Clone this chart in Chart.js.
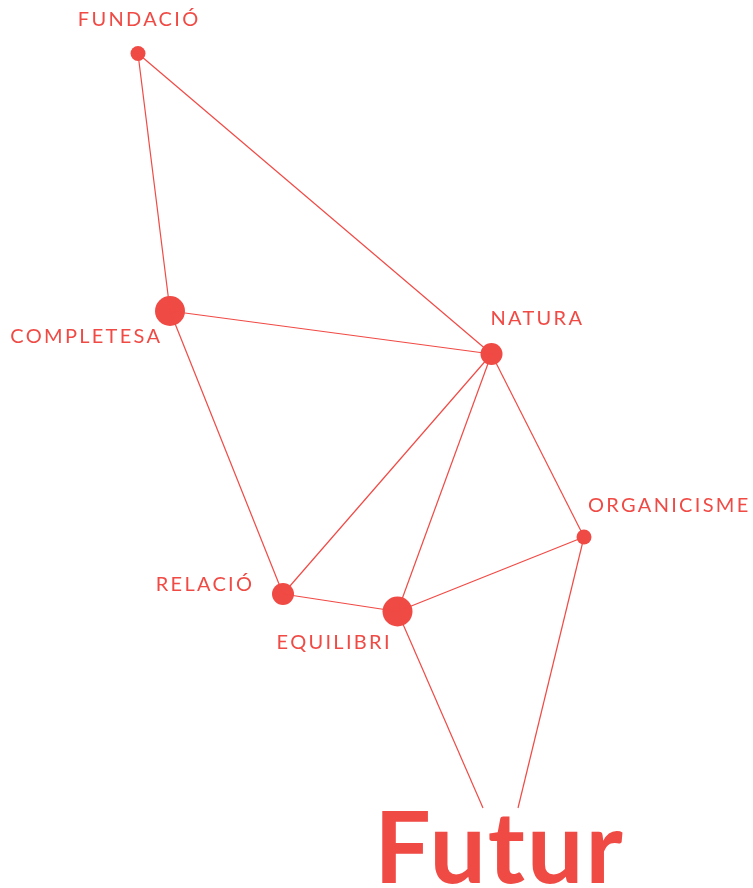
<!DOCTYPE html>
<html><head><meta charset="utf-8">
<script src="https://cdn.jsdelivr.net/npm/chart.js@4/dist/chart.umd.min.js"></script>
<style>html,body{margin:0;padding:0;background:#fff;}#c{display:block;}</style>
</head><body>
<canvas id="c" width="753" height="888"></canvas>
<script>
// ---- data ----
const nodeNames = ['FUNDACIÓ','COMPLETESA','NATURA','ORGANICISME','RELACIÓ','EQUILIBRI'];
const nodeX = [138, 170, 491.5, 584, 283, 397.5];
const nodeY = [53.5, 311, 354, 537, 594, 611.5];
const nodeWeight = [1, 3, 2, 1, 2, 3];
const futurLabel = 'Futur';
const futurPortX = [483, 518];
const futurPortY = [808, 808];
// edges: index pairs; 'F0'/'F1' are the two ports of Futur
const edges = [[0,1],[0,2],[1,2],[1,4],[2,4],[2,5],[2,3],[4,5],[5,3],[5,'F0'],[3,'F1']];

// ---- styles ----
const RED = 'rgb(240,74,69)';
const radiusFor = {1: 7.5, 2: 11, 3: 15};
const SPACING = 2.3;
const labelPlace = [
  {dx: 0, dy: -33.5, align: 'center'},
  {dx: -10, dy: 26, align: 'right'},
  {dx: -1, dy: -35.5, align: 'left'},
  {dx: 4, dy: -31.5, align: 'left'},
  {dx: -31, dy: -9, align: 'right'},
  {dx: -8, dy: 31, align: 'right'}
];

function pt(id){
  if (typeof id === 'string') { const k = +id.slice(1); return {x: futurPortX[k], y: futurPortY[k]}; }
  return {x: nodeX[id], y: nodeY[id]};
}
const edgeSets = edges.map(e => ({
  type: 'scatter', data: [pt(e[0]), pt(e[1])], showLine: true,
  borderColor: RED, borderWidth: 1.2, pointRadius: 0, pointHoverRadius: 0
}));
const nodeSet = {
  type: 'scatter',
  data: nodeNames.map((n,i) => ({x: nodeX[i], y: nodeY[i]})),
  backgroundColor: RED, borderWidth: 0,
  pointRadius: nodeWeight.map(w => radiusFor[w]), pointHoverRadius: nodeWeight.map(w => radiusFor[w])
};

const labelPlugin = {
  id: 'labels',
  afterDatasetsDraw(chart){
    const ctx = chart.ctx, xs = chart.scales.x, ys = chart.scales.y;
    ctx.save();
    ctx.fillStyle = RED;
    ctx.font = '400 20px Lato';
    ctx.letterSpacing = SPACING + 'px';
    ctx.textBaseline = 'middle';
    nodeNames.forEach((n,i) => {
      const p = labelPlace[i];
      const px = xs.getPixelForValue(nodeX[i]) + p.dx;
      const py = ys.getPixelForValue(nodeY[i]) + p.dy;
      ctx.textAlign = p.align;
      let x = px;
      if (p.align === 'right') x += SPACING;
      if (p.align === 'center') x += SPACING / 2;
      ctx.fillText(n, x, py);
    });
    ctx.letterSpacing = '2px';
    ctx.font = '700 100px Lato';
    ctx.textAlign = 'center';
    ctx.textBaseline = 'alphabetic';
    const fx = xs.getPixelForValue((futurPortX[0] + futurPortX[1]) / 2) - 1;
    ctx.fillText(futurLabel, fx, ys.getPixelForValue(futurPortY[0]) + 75);
    ctx.restore();
  }
};

new Chart(document.getElementById('c'), {
  type: 'scatter',
  data: {datasets: [...edgeSets, nodeSet]},
  options: {
    responsive: false, animation: false, events: [],
    layout: {padding: 0, autoPadding: false},
    plugins: {legend: {display: false}, tooltip: {enabled: false}},
    scales: {
      x: {type: 'linear', min: 0, max: 753, display: false},
      y: {type: 'linear', min: 0, max: 888, reverse: true, display: false}
    }
  },
  plugins: [labelPlugin]
});
</script>
</body></html>
